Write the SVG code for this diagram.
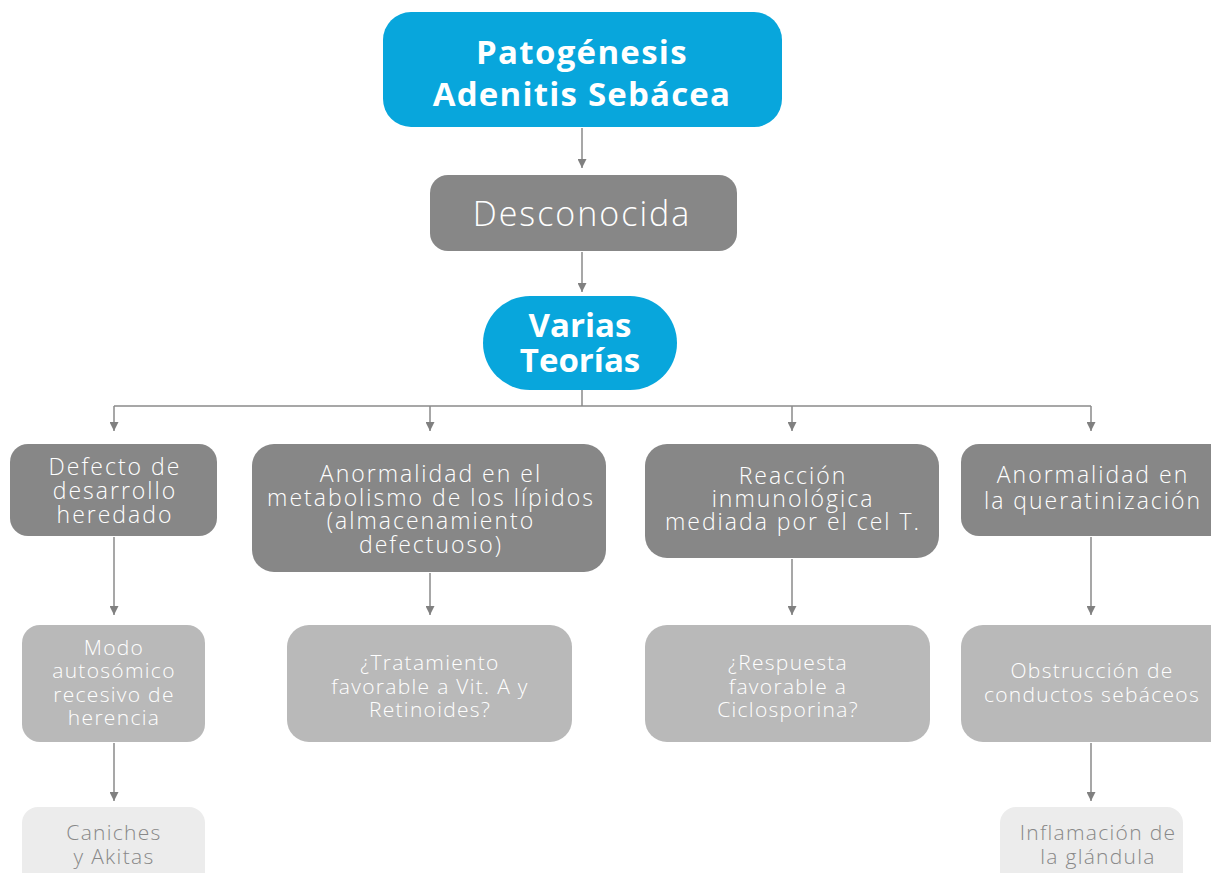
<svg xmlns="http://www.w3.org/2000/svg" width="1211" height="873" viewBox="0 0 1211 873">
<defs>
<marker id="ah" viewBox="0 0 10 10" refX="10" refY="5" markerWidth="9" markerHeight="9" markerUnits="userSpaceOnUse" orient="auto">
<path d="M0,0 L10,5 L0,10 z" fill="#808080"/>
</marker>
<style>
.c{stroke:#8a8a8a;stroke-width:1.5;fill:none}
.a{marker-end:url(#ah)}
text{font-family:"Open Sans","Lato","Liberation Sans",sans-serif;text-anchor:middle}
.b{fill:#08a6dc}
.tb{fill:#fff;font-weight:bold;font-size:33px}
.d{fill:#878787}
.td{fill:#fff;font-weight:300;font-size:23px;letter-spacing:2px}
.l{fill:#b9b9b9}
.tl{fill:#fff;font-weight:300;font-size:21px;letter-spacing:1.3px}
.x{fill:#ececec}
.tx{fill:#888;font-weight:300;font-size:21px;letter-spacing:1.3px}
</style>
</defs>
<rect width="1211" height="873" fill="#fff"/>
<g id="connectors">
<path class="c a" d="M582,128 V168"/>
<path class="c a" d="M582,252 V292"/>
<path class="c" d="M582,390 V406 M114,406 H1091"/>
<path class="c a" d="M114,406 V431"/>
<path class="c a" d="M430,406 V431"/>
<path class="c a" d="M792,406 V431"/>
<path class="c a" d="M1091,406 V431"/>
<path class="c a" d="M114,537 V615"/>
<path class="c a" d="M430,573 V615"/>
<path class="c a" d="M792,559 V615"/>
<path class="c a" d="M1091,537 V615"/>
<path class="c a" d="M114,743 V801"/>
<path class="c a" d="M1091,743 V801"/>
</g>
<g id="n-pat">
<rect class="b" x="383" y="12" width="399" height="115" rx="28"/>
<text class="tb" x="582" y="64" style="letter-spacing:1.3px">Patogénesis</text>
<text class="tb" x="582" y="106" style="letter-spacing:1.2px">Adenitis Sebácea</text>
</g>
<g id="n-desc">
<rect class="d" x="430" y="175" width="307" height="76" rx="18"/>
<text class="td" x="582" y="226" style="font-size:34px">Desconocida</text>
</g>
<g id="n-varias">
<rect class="b" x="483" y="296" width="194" height="94" rx="47"/>
<text class="tb" x="580" y="337">Varias</text>
<text class="tb" x="580" y="372">Teorías</text>
</g>
<g id="n-defecto">
<rect class="d" x="10" y="444" width="207" height="92" rx="18"/>
<text class="td" x="115" y="475">Defecto de</text>
<text class="td" x="115" y="499">desarrollo</text>
<text class="td" x="115" y="523">heredado</text>
</g>
<g id="n-lipidos">
<rect class="d" x="252" y="444" width="354" height="128" rx="22"/>
<text class="td" x="431" y="482">Anormalidad en el</text>
<text class="td" x="431" y="506">metabolismo de los lípidos</text>
<text class="td" x="431" y="529">(almacenamiento</text>
<text class="td" x="431" y="553">defectuoso)</text>
</g>
<g id="n-inmuno">
<rect class="d" x="645" y="444" width="294" height="114" rx="22"/>
<text class="td" x="793" y="484">Reacción</text>
<text class="td" x="793" y="507">inmunológica</text>
<text class="td" x="793" y="530">mediada por el cel T.</text>
</g>
<g id="n-querat">
<rect class="d" x="961" y="444" width="270" height="92" rx="18"/>
<text class="td" x="1093" y="483">Anormalidad en</text>
<text class="td" x="1093" y="509">la queratinización</text>
</g>
<g id="n-modo">
<rect class="l" x="22" y="625" width="183" height="117" rx="18"/>
<text class="tl" x="114" y="655">Modo</text>
<text class="tl" x="114" y="678">autosómico</text>
<text class="tl" x="114" y="702">recesivo de</text>
<text class="tl" x="114" y="725">herencia</text>
</g>
<g id="n-trat">
<rect class="l" x="287" y="625" width="285" height="117" rx="22"/>
<text class="tl" x="430" y="670">¿Tratamiento</text>
<text class="tl" x="430" y="694">favorable a Vit. A y</text>
<text class="tl" x="430" y="717">Retinoides?</text>
</g>
<g id="n-resp">
<rect class="l" x="645" y="625" width="285" height="117" rx="22"/>
<text class="tl" x="788" y="670">¿Respuesta</text>
<text class="tl" x="788" y="694">favorable a</text>
<text class="tl" x="788" y="717">Ciclosporina?</text>
</g>
<g id="n-obst">
<rect class="l" x="961" y="625" width="270" height="117" rx="22"/>
<text class="tl" x="1092" y="678">Obstrucción de</text>
<text class="tl" x="1092" y="702">conductos sebáceos</text>
</g>
<g id="n-caniches">
<rect class="x" x="22" y="807" width="183" height="90" rx="16"/>
<text class="tx" x="114" y="840">Caniches</text>
<text class="tx" x="114" y="864">y Akitas</text>
</g>
<g id="n-infl">
<rect class="x" x="1000" y="807" width="183" height="90" rx="16"/>
<text class="tx" x="1098" y="840">Inflamación de</text>
<text class="tx" x="1098" y="864">la glándula</text>
</g>
</svg>
